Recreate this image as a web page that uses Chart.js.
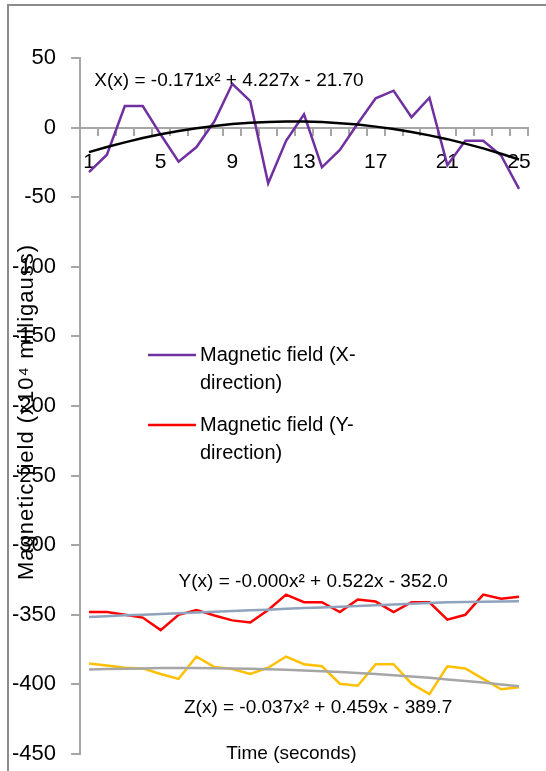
<!DOCTYPE html>
<html lang="en">
<head>
  <meta charset="UTF-8">
  <title>Magnetic field</title>
  <script src="https://cdn.jsdelivr.net/npm/chart.js"></script>
  <style>
    body { margin: 0; background: #fff; }
    .wrap { position: relative; width: 546px; height: 771px; }
    .frame { position: absolute; left: 7px; top: 4px; right: 0; bottom: 0; border-top: 2px solid #8c8c8c; border-left: 2px solid #8c8c8c; }
    canvas { position: absolute; left: 0; top: 0; }
  </style>
</head>
<body>
<div class="wrap">
  <div class="frame"></div>
  <canvas id="chart" width="546" height="771"></canvas>
</div>
<script>
const seconds = ["1","2","3","4","5","6","7","8","9","10","11","12","13","14","15","16","17","18","19","20","21","22","23","24","25"];

const fieldX = [-32, -19.5, 15.5, 15.5, -5, -24.5, -14, 4.5, 31.5, 19, -40, -9.5, 9.5, -28.5, -16, 3, 21, 26.5, 7.5, 21.5, -27, -9.5, -9.5, -20, -44];
const fieldY = [-348, -348, -350, -352, -361, -350, -346.5, -350.5, -354, -355.5, -346.5, -335.5, -341, -341, -348, -339, -340.5, -348, -341, -341, -353.5, -350, -335.5, -338.5, -337];
const fieldZ = [-385, -386.5, -388, -388.5, -392.5, -396, -380, -387.5, -389, -392.5, -388, -380, -385.5, -387, -399.5, -401, -385.5, -385.5, -399.5, -407, -387, -388.5, -396, -403.5, -402];

// trendlines as drawn
const trendX = [-17.6, -13.9, -10.6, -7.5, -4.8, -2.5, -0.5, 1.2, 2.5, 3.5, 4.1, 4.4, 4.4, 4.0, 3.2, 2.2, 0.7, -1.0, -3.1, -5.6, -8.3, -11.5, -14.9, -18.8, -22.9];
const trendY = [-351.5, -351.0, -350.4, -349.9, -349.4, -348.9, -348.3, -347.8, -347.3, -346.8, -346.3, -345.7, -345.2, -344.7, -344.2, -343.6, -343.1, -342.6, -342.1, -341.6, -341.0, -340.8, -340.6, -340.4, -340.2];
const trendZ = [-389.3, -388.9, -388.7, -388.5, -388.3, -388.3, -388.3, -388.4, -388.6, -388.8, -389.1, -389.5, -390.0, -390.5, -391.1, -391.8, -392.6, -393.4, -394.3, -395.3, -396.4, -397.5, -398.7, -400.0, -401.4];

const yTicks = [50, 0, -50, -100, -150, -200, -250, -300, -350, -400, -450];

const FONT = "'Liberation Sans', Arial, sans-serif";

// equations, axis titles and the legend, drawn on the canvas
const textPlugin = {
  id: 'texts',
  afterDraw(chart) {
    const ctx = chart.ctx;
    const xs = chart.scales.x, ys = chart.scales.y;
    ctx.save();
    ctx.fillStyle = '#000';
    ctx.textBaseline = 'middle';

    ctx.font = '19px ' + FONT;
    ctx.textAlign = 'left';
    ctx.fillText('X(x) = -0.171x² + 4.227x - 21.70', xs.getPixelForValue(0.3), ys.getPixelForValue(34));
    ctx.fillText('Y(x) = -0.000x² + 0.522x - 352.0', xs.getPixelForValue(5.0), ys.getPixelForValue(-326));
    ctx.fillText('Z(x) = -0.037x² + 0.459x - 389.7', xs.getPixelForValue(5.3), ys.getPixelForValue(-417));

    ctx.textAlign = 'center';
    ctx.fillText('Time (seconds)', xs.getPixelForValue(11.3), ys.getPixelForValue(-450));

    ctx.save();
    ctx.font = '22px ' + FONT;
    ctx.letterSpacing = '1px';
    ctx.translate(27, (chart.chartArea.top + chart.chartArea.bottom) / 2 + 6);
    ctx.rotate(-Math.PI / 2);
    ctx.fillText('Magnetic field (x10⁴ milligauss)', 0, 0);
    ctx.restore();

    // legend, only the first two series fit
    ctx.font = '20px ' + FONT;
    ctx.textAlign = 'left';
    const items = [
      { lines: ['Magnetic field (X-', 'direction)'], color: chart.data.datasets[0].borderColor },
      { lines: ['Magnetic field (Y-', 'direction)'], color: chart.data.datasets[1].borderColor }
    ];
    let y = 355;
    items.forEach(it => {
      ctx.strokeStyle = it.color;
      ctx.lineWidth = 2.5;
      ctx.beginPath();
      ctx.moveTo(148, y);
      ctx.lineTo(196, y);
      ctx.stroke();
      ctx.fillText(it.lines[0], 200, y);
      ctx.fillText(it.lines[1], 200, y + 28);
      y += 70;
    });
    ctx.restore();
  }
};

function series(label, data, color, order) {
  return { label, data, borderColor: color, backgroundColor: color, borderWidth: 2.5, pointRadius: 0, tension: 0, order };
}

new Chart(document.getElementById('chart'), {
  type: 'line',
  data: {
    labels: seconds,
    datasets: [
      series('Magnetic field (X-direction)', fieldX, '#7030A0', 1),
      series('Magnetic field (Y-direction)', fieldY, '#FF0000', 1),
      series('Magnetic field (Z-direction)', fieldZ, '#FFC000', 1),
      series('Poly. (X)', trendX, '#000000', 0),
      series('Poly. (Y)', trendY, '#8FA3BE', 0),
      series('Poly. (Z)', trendZ, '#A6A6A6', 0)
    ]
  },
  options: {
    responsive: false,
    animation: false,
    layout: { padding: { left: -3, right: 15, top: 58, bottom: 17 } },
    plugins: {
      legend: { display: false },
      tooltip: { enabled: false }
    },
    scales: {
      x: {
        position: { y: 0 },
        offset: true,
        grid: { offset: true, drawOnChartArea: false, drawTicks: true, tickLength: 7, color: '#A6A6A6', lineWidth: 2 },
        border: { color: '#A6A6A6', width: 2 },
        ticks: {
          autoSkip: false,
          maxRotation: 0,
          padding: 15,
          color: '#000',
          font: { family: FONT, size: 21 },
          callback: (v, i) => (i % 4 === 0 ? seconds[i] : '')
        }
      },
      y: {
        min: -450,
        max: 50,
        afterBuildTicks: axis => { axis.ticks = yTicks.map(v => ({ value: v })); },
        // label padding should not push the plot area in
        afterFit: axis => { axis.paddingTop = 0; axis.paddingBottom = 0; },
        grid: { drawOnChartArea: false, drawTicks: true, tickLength: 9, color: '#A6A6A6', lineWidth: 2 },
        border: { color: '#A6A6A6', width: 2 },
        ticks: { padding: 15, color: '#000', font: { family: FONT, size: 22 } }
      }
    }
  },
  plugins: [textPlugin]
});
</script>
</body>
</html>
